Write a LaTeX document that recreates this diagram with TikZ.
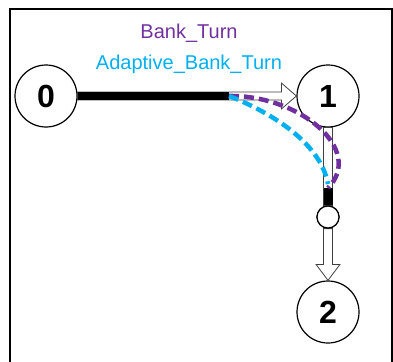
\documentclass[tikz,border=0pt]{standalone}
\usepackage{fontspec}
\setmainfont{Liberation Sans}
\usetikzlibrary{calc}
\definecolor{bankpurple}{HTML}{7030A0}
\definecolor{bankblue}{HTML}{00B0F0}
\begin{document}
\begin{tikzpicture}[x=1pt,y=-1pt,
  state/.style={circle,draw,line width=1.2pt,fill=white,minimum size=62pt,inner sep=0pt,font=\fontsize{32}{36}\selectfont\bfseries},
  waypt/.style={circle,draw,line width=1.2pt,fill=white,minimum size=22pt,inner sep=0pt},
  hollow/.style={draw=black!75,line width=0.8pt,fill=white},
  progress/.style={fill=black},
  bank/.style={bankpurple,line width=4.5pt,dash pattern=on 10pt off 5pt},
  adapt/.style={bankblue,line width=4.5pt,dash pattern=on 10pt off 5pt},
  lbl/.style={font=\fontsize{20}{24}\selectfont}]
\useasboundingbox (0,0) rectangle (393,361);
\draw[line width=1.5pt] (10,9) rectangle (392,380);
\node[lbl,text=bankpurple] (t1) at (189,33) {Bank\_Turn};
\node[lbl,text=bankblue] (t2) at (189,64) {Adaptive\_Bank\_Turn};
% nodes
\node[state] (n0) at (46,96) {0};
\node[state] (n1) at (328,96) {1};
\node[state] (n2) at (328,312) {2};
\node[waypt] (s) at (328,217) {};
\coordinate (p1) at (229,96);
\coordinate (p2) at (328,188);
\coordinate (p3) at (328,184);
% hollow arrow 0 -> 1
\draw[hollow] ($(n0.east)+(0,-4)$) -- ($(n1.west)+(-15,-4)$) -- ($(n1.west)+(-15,-13)$) -- (n1.west)
  -- ($(n1.west)+(-15,13)$) -- ($(n1.west)+(-15,4)$) -- ($(n0.east)+(0,4)$) -- cycle;
\fill[progress] ($(n0.east)+(0,-4)$) rectangle ($(p1)+(0,4)$);
% hollow shaft 1 -> waypoint
\draw[hollow] ($(n1.south)+(-4.5,0)$) rectangle ($(s.north)+(4.5,0)$);
\fill[progress] ($(p2)+(-4.5,0)$) rectangle ($(s.north)+(4.5,0)$);
% hollow arrow waypoint -> 2
\draw[hollow] ($(s.south)+(-4.5,0)$) -- ($(n2.north)+(-4.5,-16)$) -- ($(n2.north)+(-12,-16)$) -- (n2.north)
  -- ($(n2.north)+(12,-16)$) -- ($(n2.north)+(4.5,-16)$) -- ($(s.south)+(4.5,0)$) -- cycle;
\node[waypt] at (s) {};
% turn paths
\draw[bank] (p1) .. controls (300,95) and (365,150) .. (p2);
\draw[adapt] (p1) .. controls (265,110) and (320,140) .. (p3);
\end{tikzpicture}
\end{document}
